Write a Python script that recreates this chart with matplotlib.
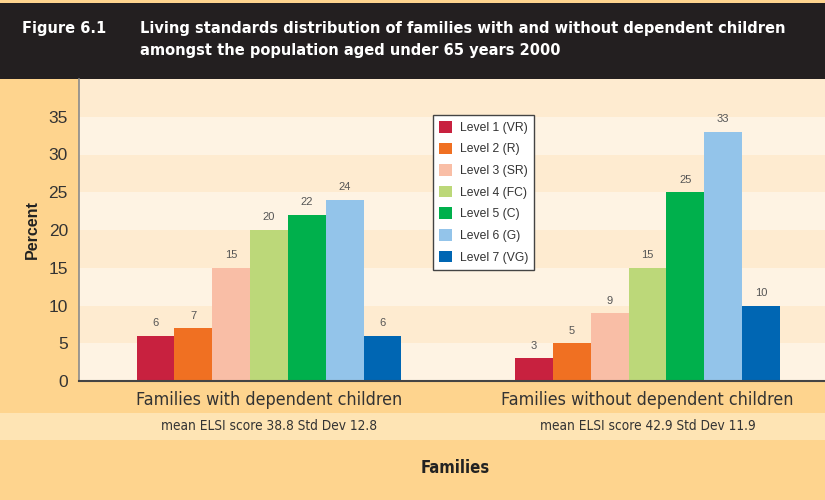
import numpy as np
import matplotlib
matplotlib.use('Agg')
import matplotlib.pyplot as plt
from matplotlib.patches import Rectangle
from matplotlib import transforms

# Datos de la figura
grupos = ['Families with dependent children', 'Families without dependent children']
notas = ['mean ELSI score 38.8 Std Dev 12.8', 'mean ELSI score 42.9 Std Dev 11.9']
niveles = ['Level 1 (VR)', 'Level 2 (R)', 'Level 3 (SR)', 'Level 4 (FC)',
           'Level 5 (C)', 'Level 6 (G)', 'Level 7 (VG)']
con_hijos = [6, 7, 15, 20, 22, 24, 6]
sin_hijos = [3, 5, 9, 15, 25, 33, 10]
colores = ['#c8213f', '#f07022', '#f9bea6', '#bcd879', '#00b04c', '#93c4ea', '#0066b3']

plt.rcParams['font.family'] = ['Liberation Sans', 'DejaVu Sans']

fig = plt.figure(figsize=(8.25, 5), dpi=100, facecolor='#fed48e')

# Franja oscura del encabezado y franja clara de las notas
fig.patches.append(Rectangle((0, 0.842), 1, 0.152, transform=fig.transFigure,
                             facecolor='#231f20', edgecolor='none', zorder=-1))
fig.patches.append(Rectangle((0, 0.12), 1, 0.054, transform=fig.transFigure,
                             facecolor='#fee4b4', edgecolor='none', zorder=-1))

cond = dict(family='DejaVu Sans', stretch='condensed')
fig.text(0.027, 0.944, 'Figure 6.1', color='white', fontsize=11.7, fontweight='bold',
         va='center', **cond)
fig.text(0.170, 0.944, 'Living standards distribution of families with and without dependent children',
         color='white', fontsize=11.7, fontweight='bold', va='center', **cond)
fig.text(0.170, 0.898, 'amongst the population aged under 65 years 2000',
         color='white', fontsize=11.7, fontweight='bold', va='center', **cond)

ax = fig.add_axes([0.0958, 0.238, 0.9042, 0.604])
ax.set_facecolor('#fef3e3')

# Bandas horizontales alternas cada 5 puntos
for i, y0 in enumerate(range(0, 40, 5)):
    ax.axhspan(y0, y0 + 5, facecolor='#fef3e3' if i % 2 == 0 else '#feebd0',
               edgecolor='none', zorder=0)

x = np.arange(len(grupos))
ancho = 0.1
for i, nivel in enumerate(niveles):
    pos = x + (i - 3) * ancho
    vals = [con_hijos[i], sin_hijos[i]]
    barras = ax.bar(pos, vals, width=ancho, color=colores[i], label=nivel, zorder=2)
    for b, v in zip(barras, vals):
        ax.text(b.get_x() + b.get_width() / 2, v + 1.0, str(v), ha='center', va='bottom',
                fontsize=8, color='#555555')

ax.set_xlim(-0.502, 1.469)
ax.set_ylim(0, 40)
ax.set_yticks(range(0, 40, 5))
ax.tick_params(axis='y', length=0, labelsize=12.5, labelcolor='#333333', pad=8)
ax.set_xticks([])
for s in ('top', 'right'):
    ax.spines[s].set_visible(False)
ax.spines['left'].set_color('#8a8a8a')
ax.spines['left'].set_linewidth(1.2)
ax.spines['bottom'].set_color('#444444')
ax.spines['bottom'].set_linewidth(1.5)

ax.set_ylabel('Percent', fontsize=11.5, fontweight='bold', color='#222222', labelpad=6)

# Etiquetas de grupo y notas debajo del eje
trans = transforms.blended_transform_factory(ax.transData, fig.transFigure)
for xi, g, n in zip(x, grupos, notas):
    ax.text(xi, 0.2, g, transform=trans, ha='center', va='center', fontsize=12.9,
            color='#333333', **cond)
    ax.text(xi, 0.147, n, transform=trans, ha='center', va='center', fontsize=9.8,
            color='#333333', **cond)

fig.text(0.552, 0.064, 'Families', ha='center', va='center', fontsize=12,
         fontweight='bold', color='#222222', **cond)

leg = ax.legend(loc='upper left', bbox_to_anchor=(0.4745, 0.881), borderaxespad=0,
                fontsize=8.7, frameon=True, fancybox=False, handlelength=1.1,
                handleheight=1.1, handletextpad=0.6, labelspacing=0.72, borderpad=0.5,
                labelcolor='#333333')
leg.get_frame().set_edgecolor('#444444')
leg.get_frame().set_facecolor('white')
leg.get_frame().set_linewidth(1.0)
leg.get_frame().set_alpha(1)

fig.savefig('out.png', dpi=100, facecolor=fig.get_facecolor())
